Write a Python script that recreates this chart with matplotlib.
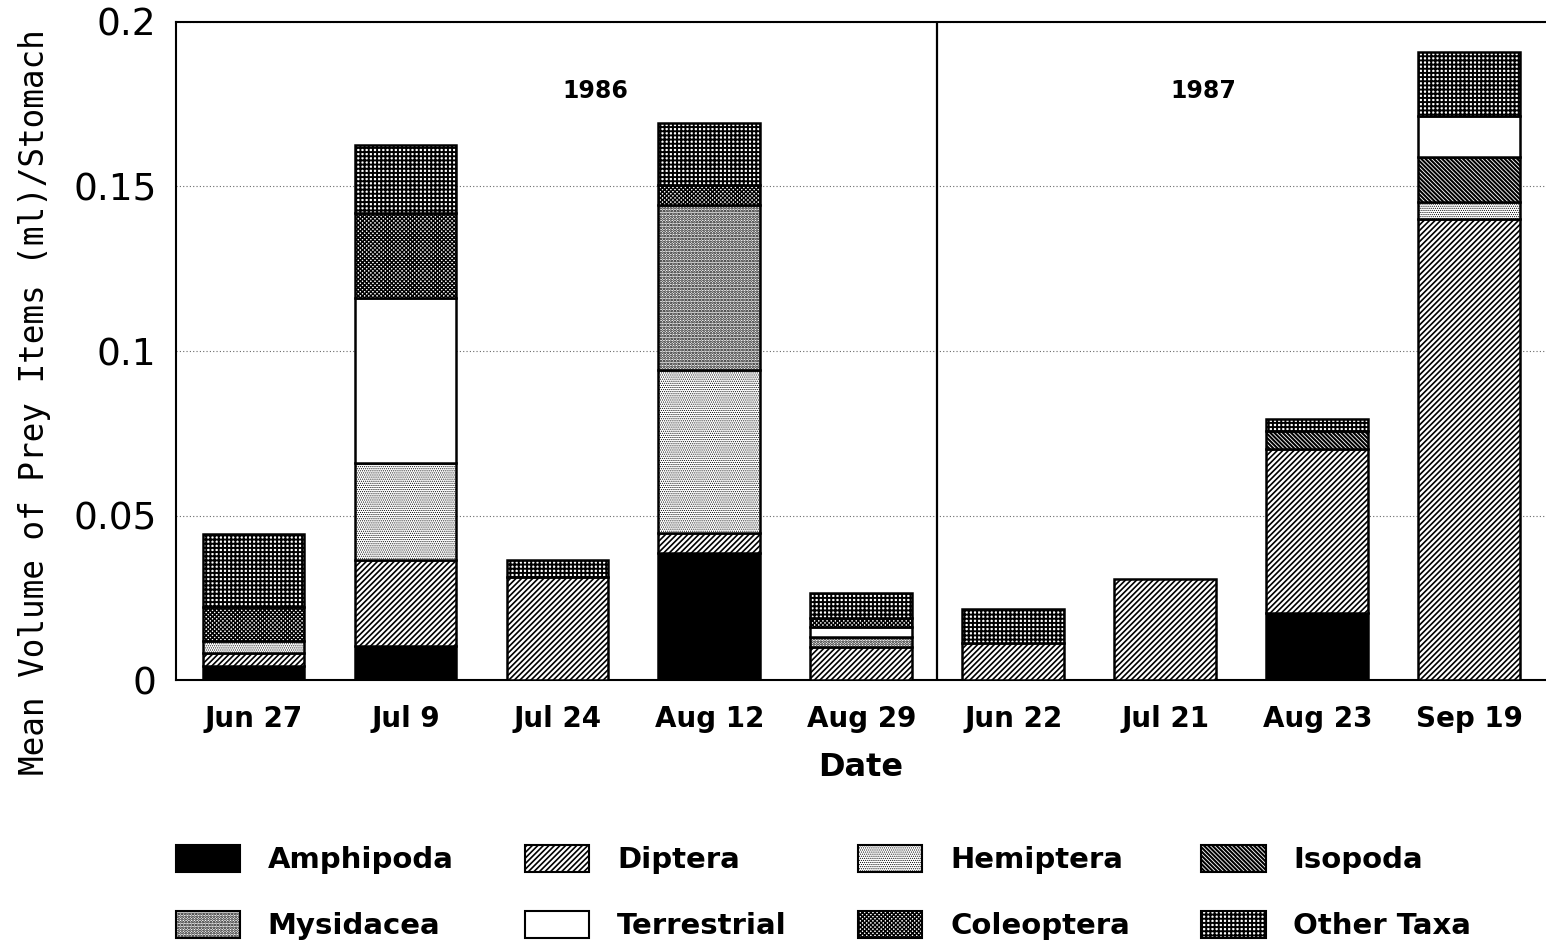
import matplotlib
matplotlib.use("Agg")
import matplotlib.pyplot as plt
from matplotlib.patches import Patch
import numpy as np

dates = ["Jun 27", "Jul 9", "Jul 24", "Aug 12", "Aug 29",
         "Jun 22", "Jul 21", "Aug 23", "Sep 19"]
years = ["1986", "1987"]

# segment heights (ml per stomach), stacked bottom to top
amphipoda = [0.0043, 0.0103, 0.0, 0.0386, 0.0, 0.0, 0.0, 0.0204, 0.0]
diptera = [0.0039, 0.0262, 0.0313, 0.0061, 0.0100, 0.0112, 0.0307, 0.0498, 0.1400]
hemiptera = [0.0037, 0.0295, 0.0, 0.0495, 0.0, 0.0, 0.0, 0.0, 0.0053]
isopoda = [0.0, 0.0, 0.0, 0.0, 0.0, 0.0, 0.0, 0.0055, 0.0137]
mysidacea = [0.0, 0.0, 0.0, 0.0502, 0.0030, 0.0, 0.0, 0.0, 0.0]
terrestrial = [0.0, 0.0500, 0.0, 0.0, 0.0030, 0.0, 0.0, 0.0, 0.0124]
coleoptera = [0.0103, 0.0260, 0.0, 0.0060, 0.0028, 0.0, 0.0, 0.0, 0.0]
other_taxa = [0.0222, 0.0206, 0.0052, 0.0189, 0.0076, 0.0104, 0.0, 0.0036, 0.0196]

# name, values, face colour, hatch, hatch line width
series = [
    ("Amphipoda", amphipoda, "black", "", 1.0),
    ("Diptera", diptera, "white", "//////", 1.2),
    ("Hemiptera", hemiptera, "white", "........", 0.5),
    ("Isopoda", isopoda, "white", "\\" * 8, 1.5),
    ("Mysidacea", mysidacea, "white", "......", 1.3),
    ("Terrestrial", terrestrial, "white", "", 1.0),
    ("Coleoptera", coleoptera, "white", "xxxxxxxx", 1.0),
    ("Other Taxa", other_taxa, "white", "++++", 1.4),
]

plt.rcParams["font.family"] = "DejaVu Sans"

fig = plt.figure(figsize=(15.46, 9.46), dpi=100)
ax = fig.add_axes([176 / 1546, 1 - 680 / 946, 1 - 176 / 1546 - 0.0005, (680 - 22) / 946])


def set_hlw(patch, lw):
    if hasattr(patch, "set_hatch_linewidth"):
        patch.set_hatch_linewidth(lw)


x = np.arange(len(dates))
bottom = np.zeros(len(dates))
handles = {}
hatch_lw = {}
for name, vals, fc, hatch, hlw in series:
    vals = np.array(vals)
    plt.rcParams["hatch.linewidth"] = hlw
    bars = ax.bar(x, vals, 0.67, bottom=bottom, color=fc, edgecolor="black",
                  hatch=hatch, linewidth=1.8, zorder=3)
    for b, v in zip(bars, vals):
        if v == 0:
            b.set_visible(False)
        set_hlw(b, hlw)
    p = Patch(facecolor=fc, edgecolor="black", hatch=hatch, linewidth=1.5)
    set_hlw(p, hlw)
    handles[name] = p
    hatch_lw[name] = hlw
    bottom += vals

ax.set_xlim(-0.51, 8.5)
ax.set_ylim(0, 0.2)
ax.axvline(4.5, color="black", linewidth=1.6, zorder=4)

ax.set_yticks([0, 0.05, 0.1, 0.15, 0.2])
ax.set_yticklabels(["0", "0.05", "0.1", "0.15", "0.2"], fontsize=27)
ax.set_xticks(x)
ax.set_xticklabels(dates, fontsize=20, fontweight="bold")
ax.tick_params(axis="y", length=0, pad=14)
ax.tick_params(axis="x", length=0, pad=18)
ax.yaxis.grid(True, linestyle=(0, (1, 2)), color="dimgray", linewidth=0.8, zorder=0)
for s in ["left", "top", "bottom"]:
    ax.spines[s].set_linewidth(1.5)
ax.spines["right"].set_visible(False)

ax.text(2.25, 0.179, years[0], ha="center", va="center", fontsize=17, fontweight="bold")
ax.text(6.25, 0.179, years[1], ha="center", va="center", fontsize=17, fontweight="bold")

ax.set_xlabel("Date", fontsize=23, fontweight="bold", labelpad=14)
fig.text(35 / 1546, 1 - 402 / 946, "Mean Volume of Prey Items (ml)/Stomach",
         rotation=90, ha="center", va="center", fontsize=23.5, family="DejaVu Sans Mono")

order = ["Amphipoda", "Mysidacea", "Diptera", "Terrestrial",
         "Hemiptera", "Coleoptera", "Isopoda", "Other Taxa"]
leg = fig.legend([handles[n] for n in order], order, loc="upper left",
                 bbox_to_anchor=(176 / 1546, 1 - 845 / 946), ncol=4, frameon=False,
                 prop={"size": 21, "weight": "bold"}, handlelength=2.2, handleheight=1.05,
                 handletextpad=0.95, columnspacing=2.45, labelspacing=1.25,
                 borderpad=0, borderaxespad=0)
for h, n in zip(leg.legend_handles, order):
    set_hlw(h, hatch_lw[n])

fig.savefig("out.png", dpi=100)
